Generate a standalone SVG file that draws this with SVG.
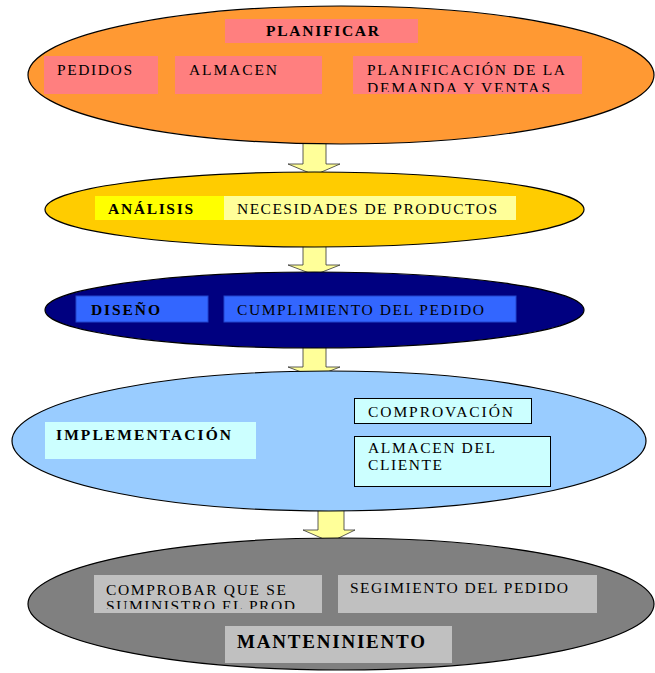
<svg xmlns="http://www.w3.org/2000/svg" width="655" height="673" viewBox="0 0 655 673">
<style>
.ell{stroke:#000;stroke-width:1.2}
.t{font-family:"Liberation Serif","Times New Roman",serif;font-size:15.5px;fill:#000}
.b{font-weight:bold}
.arrow{fill:#FFFF99;stroke:#333;stroke-width:0.8}
</style>
<defs>
<clipPath id="c1"><rect x="353" y="56" width="229" height="36"/></clipPath>
<clipPath id="c2"><rect x="94" y="575" width="228" height="34"/></clipPath>
</defs>
<rect width="655" height="673" fill="#fff"/>
<g id="connectors">
<path class="arrow" d="M303,140 V164 H288 L314.5,175 L340,164 H326 V140 Z"/>
<path class="arrow" d="M303,244 V265 H288 L314.5,275 L340,265 H326 V244 Z"/>
<path class="arrow" d="M303,345 V367 H288 L314.5,377 L340,367 H326 V345 Z"/>
<path class="arrow" d="M318,507 V530 H303 L330.5,542 L355,530 H344 V507 Z"/>
</g>
<g id="planificar">
<ellipse class="ell" cx="341" cy="75" rx="313" ry="69" fill="#FF9933"/>
<rect x="225" y="19" width="193" height="24" fill="#FF7F7F"/>
<text class="t b" x="266" y="36" textLength="113" lengthAdjust="spacing">PLANIFICAR</text>
<rect x="44" y="56" width="114" height="38" fill="#FF7F7F"/>
<text class="t" x="57" y="75" textLength="75" lengthAdjust="spacing">PEDIDOS</text>
<rect x="175" y="56" width="147" height="38" fill="#FF7F7F"/>
<text class="t" x="189" y="75" textLength="88" lengthAdjust="spacing">ALMACEN</text>
<rect x="353" y="56" width="229" height="38" fill="#FF7F7F"/>
<g clip-path="url(#c1)">
<text class="t" x="367" y="75" textLength="198" lengthAdjust="spacing">PLANIFICACIÓN  DE LA</text>
<text class="t" x="367" y="93" textLength="183" lengthAdjust="spacing">DEMANDA Y VENTAS</text>
</g>
</g>
<g id="analisis">
<ellipse class="ell" cx="314.5" cy="209.5" rx="269.5" ry="37.5" fill="#FFCC00"/>
<rect x="95" y="196" width="129" height="24" fill="#FFFF00"/>
<text class="t b" x="108" y="214" textLength="85" lengthAdjust="spacing">ANÁLISIS</text>
<rect x="224" y="196" width="292" height="24" fill="#FFFF99"/>
<text class="t" x="237" y="214" textLength="260" lengthAdjust="spacing">NECESIDADES DE PRODUCTOS</text>
</g>
<g id="diseno">
<ellipse class="ell" cx="314.5" cy="310" rx="269.5" ry="38" fill="#000080"/>
<rect x="76" y="296" width="132" height="26" fill="#3366FF" stroke="#2244CC" stroke-width="1"/>
<text class="t b" x="91" y="315" textLength="69" lengthAdjust="spacing">DISEÑO</text>
<rect x="224" y="296" width="292" height="26" fill="#3366FF" stroke="#2244CC" stroke-width="1"/>
<text class="t" x="237" y="315" textLength="247" lengthAdjust="spacing">CUMPLIMIENTO DEL PEDIDO</text>
</g>
<g id="implementacion">
<ellipse class="ell" cx="329" cy="441" rx="317" ry="70" fill="#99CCFF"/>
<rect x="45" y="422" width="211" height="37" fill="#CCFFFF"/>
<text class="t b" x="56" y="440" textLength="175" lengthAdjust="spacing">IMPLEMENTACIÓN</text>
<rect x="354.5" y="398.5" width="177" height="25" fill="#CCFFFF" stroke="#000" stroke-width="1"/>
<text class="t" x="368" y="417" textLength="145" lengthAdjust="spacing">COMPROVACIÓN</text>
<rect x="354.5" y="436.5" width="196" height="50" fill="#CCFFFF" stroke="#000" stroke-width="1"/>
<text class="t" x="368" y="453" textLength="127" lengthAdjust="spacing">ALMACEN DEL</text>
<text class="t" x="368" y="470" textLength="74" lengthAdjust="spacing">CLIENTE</text>
</g>
<g id="mantenimiento">
<ellipse class="ell" cx="341" cy="604" rx="313" ry="66" fill="#808080"/>
<rect x="94" y="575" width="228" height="38" fill="#C0C0C0"/>
<g clip-path="url(#c2)">
<text class="t" x="106" y="595" textLength="180" lengthAdjust="spacing">COMPROBAR QUE SE</text>
<text class="t" x="106" y="611" textLength="189" lengthAdjust="spacing">SUMINISTRO EL PROD</text>
</g>
<rect x="338" y="575" width="259" height="38" fill="#C0C0C0"/>
<text class="t" x="350" y="593" textLength="218" lengthAdjust="spacing">SEGIMIENTO DEL PEDIDO</text>
<rect x="225" y="626" width="227" height="37" fill="#C0C0C0"/>
<text class="t b" x="237" y="648" style="font-size:19px" textLength="188" lengthAdjust="spacing">MANTENINIENTO</text>
</g>
</svg>
